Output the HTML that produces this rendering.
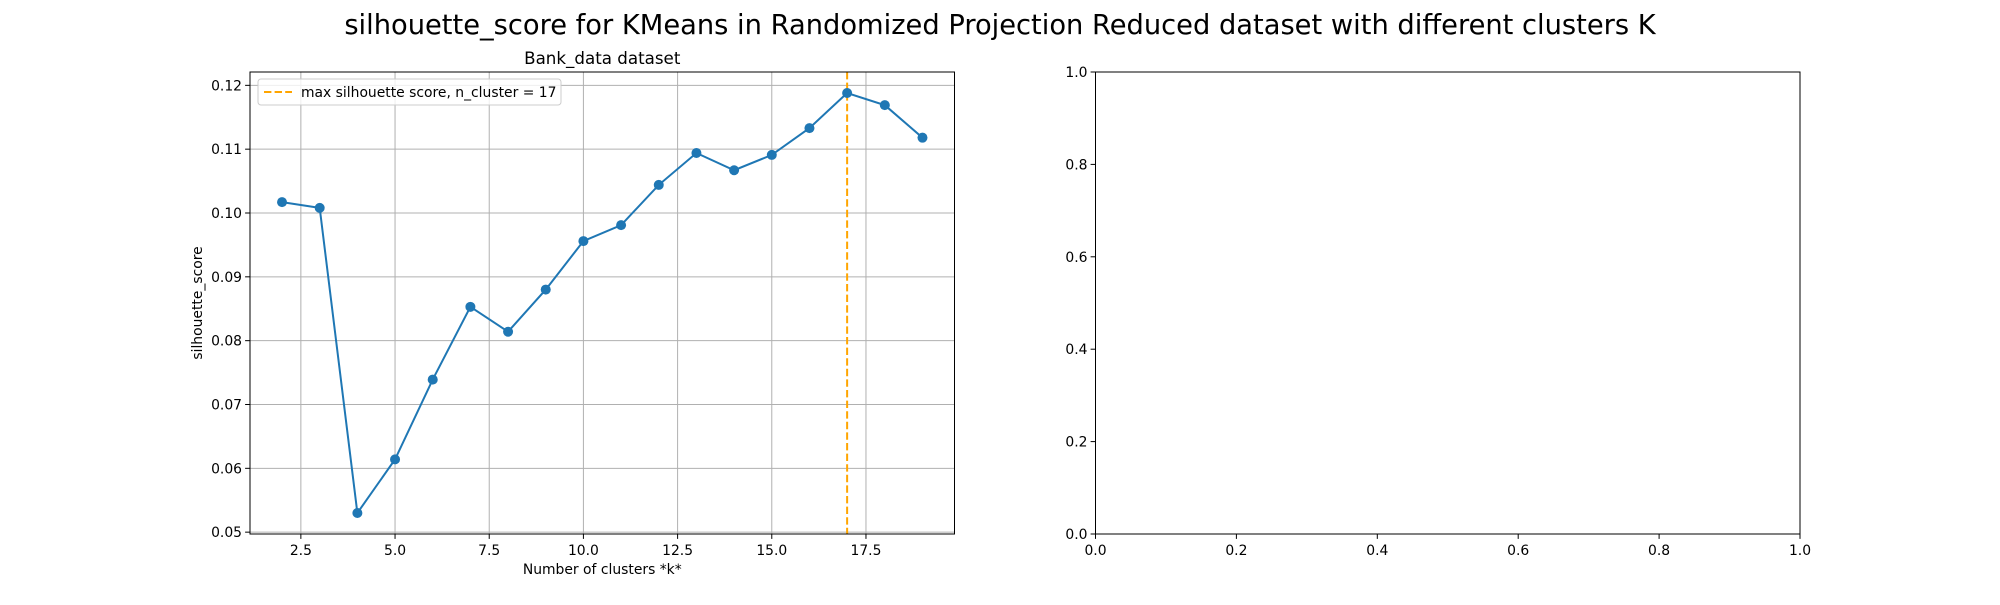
<!DOCTYPE html>
<html><head><meta charset="utf-8"><style>
body{margin:0;background:#fff}
svg text{font-family:"DejaVu Sans","Liberation Sans",sans-serif;fill:#000}
</style></head><body>
<svg id="fig" width="2000" height="600" xmlns="http://www.w3.org/2000/svg">
<rect width="2000" height="600" fill="#fff"/>
<text x="1000" y="34" font-size="27.3" text-anchor="middle">silhouette_score for KMeans in Randomized Projection Reduced dataset with different clusters K</text>
<g id="left"></g>
<g id="right"></g>
</svg>
<script>
const clusters=[2,3,4,5,6,7,8,9,10,11,12,13,14,15,16,17,18,19];
const scores=[0.1017,0.1008,0.0530,0.0614,0.0739,0.0853,0.0814,0.0880,0.0956,0.0981,0.1044,0.1094,0.1067,0.1091,0.1133,0.1188,0.1169,0.1118];
const xTicks=[2.5,5.0,7.5,10.0,12.5,15.0,17.5];
const yTicks=[0.05,0.06,0.07,0.08,0.09,0.10,0.11,0.12];
const rTicks=[0,0.2,0.4,0.6,0.8,1.0];
const bestK=17;

const NS="http://www.w3.org/2000/svg";
function mk(parent,tag,attrs,text){const e=document.createElementNS(NS,tag);for(const k in attrs)e.setAttribute(k,attrs[k]);if(text!==undefined)e.textContent=text;parent.appendChild(e);return e;}
const L=250,R=954.5,T=72,B=534;
const xmin=Math.min(...clusters),xmax=Math.max(...clusters),xr=xmax-xmin;
const ymn=Math.min(...scores),ymx=Math.max(...scores),yr=ymx-ymn;
const x0=xmin-0.05*xr,x1=xmax+0.05*xr,y0=ymn-0.05*yr,y1=ymx+0.05*yr;
const sx=v=>L+(v-x0)/(x1-x0)*(R-L);
const sy=v=>B-(v-y0)/(y1-y0)*(B-T);
const g=document.getElementById('left');
xTicks.forEach(t=>{const X=sx(t);
 const l=mk(g,'line',{x1:X,x2:X,y1:T,y2:B,stroke:'#b0b0b0','stroke-width':1});
 
 mk(g,'line',{x1:X,x2:X,y1:B,y2:B+4.9,stroke:'#000'});
 const tx=mk(g,'text',{x:X,y:B+21,'font-size':13.9,'text-anchor':'middle'},t.toFixed(1));
 });
yTicks.forEach(t=>{const Y=sy(t);
 const l=mk(g,'line',{x1:L,x2:R,y1:Y,y2:Y,stroke:'#b0b0b0','stroke-width':1});
 
 mk(g,'line',{x1:L-4.9,x2:L,y1:Y,y2:Y,stroke:'#000'});
 const tx=mk(g,'text',{x:L-8,y:Y+5,'font-size':13.9,'text-anchor':'end'},t.toFixed(2));
 });
const vl=mk(g,'line',{x1:sx(bestK),x2:sx(bestK),y1:T,y2:B,stroke:'#ffa500','stroke-width':2,'stroke-dasharray':'7.4,3.2'});

const pl=mk(g,'polyline',{points:clusters.map((c,i)=>sx(c)+','+sy(scores[i])).join(' '),fill:'none',stroke:'#1f77b4','stroke-width':2});

clusters.forEach((c,i)=>{const p=mk(g,'circle',{cx:sx(c),cy:sy(scores[i]),r:5,fill:'#1f77b4'});
 });
const fr=mk(g,'rect',{x:L,y:T,width:R-L,height:B-T,fill:'none',stroke:'#000','stroke-width':1});

const lg=mk(g,'g',{});

mk(lg,'rect',{x:258,y:79,width:303,height:26,rx:3,fill:'#fff','fill-opacity':0.8,stroke:'#ccc'});
mk(lg,'line',{x1:264,x2:292,y1:92,y2:92,stroke:'#ffa500','stroke-width':2,'stroke-dasharray':'7.4,3.2'});
mk(lg,'text',{x:301,y:97,'font-size':13.9},'max silhouette score, n_cluster = '+bestK);
const t1=mk(g,'text',{x:(L+R)/2,y:64,'font-size':16.7,'text-anchor':'middle'},'Bank_data dataset');

const xl=mk(g,'text',{x:(L+R)/2,y:574,'font-size':13.9,'text-anchor':'middle'},'Number of clusters *k*');

const yl=mk(g,'text',{x:0,y:0,'font-size':13.9,'text-anchor':'middle',transform:`translate(202,${(T+B)/2}) rotate(-90)`},'silhouette_score');

const RL=1095.5,RR=1800,rg=document.getElementById('right');
rTicks.forEach(t=>{const X=RL+t*(RR-RL),Y=B-t*(B-T);
 mk(rg,'line',{x1:X,x2:X,y1:B,y2:B+4.9,stroke:'#000'});
 const a=mk(rg,'text',{x:X,y:B+21,'font-size':13.9,'text-anchor':'middle'},t.toFixed(1));
 
 mk(rg,'line',{x1:RL-4.9,x2:RL,y1:Y,y2:Y,stroke:'#000'});
 const b=mk(rg,'text',{x:RL-8,y:Y+5,'font-size':13.9,'text-anchor':'end'},t.toFixed(1));
 });
const rf=mk(rg,'rect',{x:RL,y:T,width:RR-RL,height:B-T,fill:'none',stroke:'#000','stroke-width':1});

</script>
</body></html>
